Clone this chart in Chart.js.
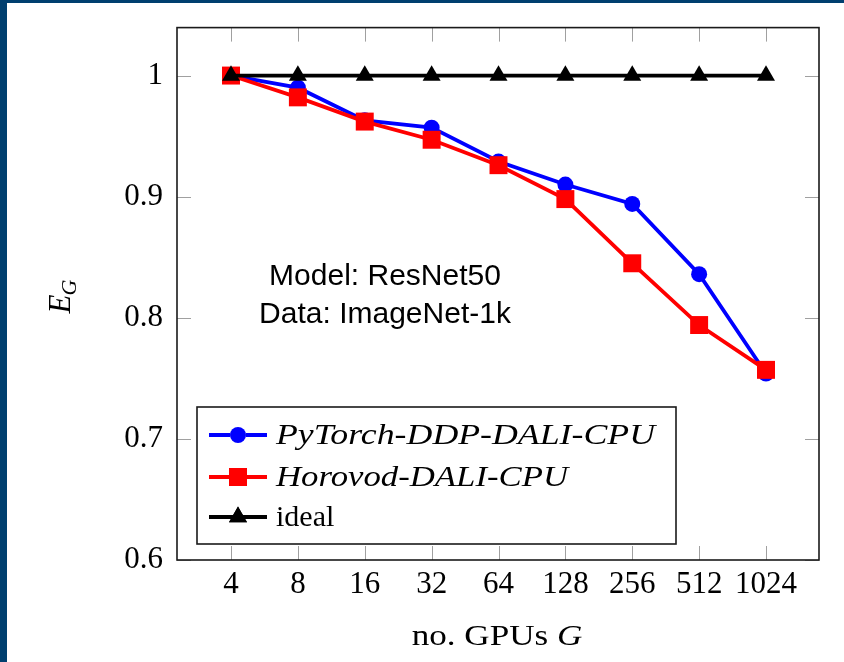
<!DOCTYPE html>
<html>
<head>
<meta charset="utf-8">
<script src="https://cdn.jsdelivr.net/npm/chart.js@4/dist/chart.umd.min.js"></script>
<style>
  html, body { margin: 0; padding: 0; background: #003f6f; }
  #wrap { position: absolute; left: 7px; top: 3px; width: 837px; height: 659px; background: #fff; }
  canvas { display: block; }
</style>
</head>
<body>
<div id="wrap"><canvas id="chart" width="837" height="659"></canvas></div>
<script>
const gpus = [4, 8, 16, 32, 64, 128, 256, 512, 1024];
const pytorchDDP = [1.0, 0.990, 0.963, 0.957, 0.929, 0.910, 0.894, 0.836, 0.754];
const horovod = [1.0, 0.982, 0.962, 0.947, 0.926, 0.898, 0.845, 0.794, 0.757];
const ideal = [1, 1, 1, 1, 1, 1, 1, 1, 1];
const yTicks = [0.6, 0.7, 0.8, 0.9, 1];
const seriesNames = ["PyTorch-DDP-DALI-CPU", "Horovod-DALI-CPU", "ideal"];
const noteLines = ["Model: ResNet50", "Data: ImageNet-1k"];

const serif = "'Liberation Serif', 'DejaVu Serif', serif";
const toPoints = (vals) => vals.map((v, i) => ({ x: Math.log2(gpus[i]), y: v }));

// text stretched sideways to a target width (the reference uses a wider font)
function wideText(ctx, text, x, y, target) {
  const m = ctx.measureText(text).width;
  const k = target ? target / m : 1;
  ctx.save();
  ctx.translate(x, y);
  ctx.scale(k, 1);
  ctx.fillText(text, 0, 0);
  ctx.restore();
  return m * k;
}

// frame, inner tick marks, legend box and free text
const decor = {
  id: "decor",
  afterDatasetsDraw(chart) {
    const { ctx, chartArea: a, scales } = chart;
    ctx.save();
    // tick marks inside the box
    ctx.strokeStyle = "#a0a0a0";
    ctx.lineWidth = 1;
    ctx.beginPath();
    gpus.forEach((g) => {
      const px = Math.round(scales.x.getPixelForValue(Math.log2(g))) + 0.5;
      ctx.moveTo(px, a.bottom); ctx.lineTo(px, a.bottom - 14);
      ctx.moveTo(px, a.top); ctx.lineTo(px, a.top + 14);
    });
    yTicks.forEach((t) => {
      const py = Math.round(scales.y.getPixelForValue(t)) + 0.5;
      ctx.moveTo(a.left, py); ctx.lineTo(a.left + 14, py);
      ctx.moveTo(a.right, py); ctx.lineTo(a.right - 14, py);
    });
    ctx.stroke();
    // frame
    ctx.strokeStyle = "#1a1a1a";
    ctx.lineWidth = 1.6;
    ctx.strokeRect(a.left, a.top, a.right - a.left, a.bottom - a.top);

    // note
    ctx.fillStyle = "#000";
    ctx.font = "30px 'Liberation Sans', Arial, sans-serif";
    ctx.textAlign = "center";
    ctx.textBaseline = "middle";
    ctx.fillText(noteLines[0], 378, 274);
    ctx.fillText(noteLines[1], 378, 312);

    // legend
    const lx = 190, ly = 404, lw = 479, lh = 137;
    ctx.fillStyle = "#fff";
    ctx.fillRect(lx, ly, lw, lh);
    ctx.strokeStyle = "#1a1a1a";
    ctx.lineWidth = 1.6;
    ctx.strokeRect(lx, ly, lw, lh);
    const rows = [432, 474, 514];
    const widths = [379, 292, null];
    chart.data.datasets.forEach((ds, i) => {
      const y = rows[i];
      ctx.strokeStyle = ds.borderColor;
      ctx.lineWidth = ds.borderWidth;
      ctx.beginPath();
      ctx.moveTo(202, y); ctx.lineTo(260, y);
      ctx.stroke();
      Chart.helpers.drawPoint(ctx, {
        pointStyle: ds.pointStyle, radius: ds.pointRadius, borderWidth: 0, rotation: 0
      }, 231, y);
      ctx.fillStyle = ds.pointBackgroundColor;
      ctx.fill();
      ctx.fillStyle = "#000";
      ctx.textAlign = "left";
      ctx.textBaseline = "middle";
      ctx.font = (widths[i] ? "italic " : "") + "30px " + serif;
      wideText(ctx, seriesNames[i], 269, y + 1, widths[i]);
    });

    // x title: "no. GPUs G"
    ctx.textBaseline = "alphabetic";
    ctx.textAlign = "left";
    const k = 1.17;
    ctx.font = "30px " + serif;
    const t1 = "no. GPUs ";
    const w1 = ctx.measureText(t1).width * k;
    ctx.font = "italic 30px " + serif;
    const w2 = ctx.measureText("G").width * k;
    const sx = 490 - (w1 + w2) / 2;
    ctx.font = "30px " + serif;
    wideText(ctx, t1, sx, 642, w1);
    ctx.font = "italic 30px " + serif;
    wideText(ctx, "G", sx + w1, 642, w2);

    // y title: E_G
    ctx.translate(55, 293);
    ctx.rotate(-Math.PI / 2);
    ctx.font = "italic 31px " + serif;
    const we = ctx.measureText("E").width;
    ctx.font = "italic 22px " + serif;
    const wg = ctx.measureText("G").width;
    const ox = -(we + wg) / 2;
    ctx.font = "italic 31px " + serif;
    ctx.fillText("E", ox, 8);
    ctx.font = "italic 22px " + serif;
    ctx.fillText("G", ox + we - 1, 14);
    ctx.restore();
  }
};

const ctx = document.getElementById("chart").getContext("2d");
new Chart(ctx, {
  type: "line",
  data: {
    datasets: [
      {
        label: seriesNames[0],
        data: toPoints(pytorchDDP),
        borderColor: "#0000ff",
        backgroundColor: "#0000ff",
        pointBackgroundColor: "#0000ff",
        pointBorderWidth: 0,
        borderWidth: 3.8,
        pointStyle: "circle",
        pointRadius: 8,
        order: 3
      },
      {
        label: seriesNames[1],
        data: toPoints(horovod),
        borderColor: "#ff0000",
        backgroundColor: "#ff0000",
        pointBackgroundColor: "#ff0000",
        pointBorderWidth: 0,
        borderWidth: 3.8,
        pointStyle: "rect",
        pointRadius: 12.7,
        order: 2
      },
      {
        label: seriesNames[2],
        data: toPoints(ideal),
        borderColor: "#000000",
        backgroundColor: "#000000",
        pointBackgroundColor: "#000000",
        pointBorderWidth: 0,
        borderWidth: 3.8,
        pointStyle: "triangle",
        pointRadius: 10.4,
        order: 1
      }
    ]
  },
  options: {
    responsive: false,
    animation: false,
    clip: false,
    layout: { padding: { top: 18, right: 25, left: 0, bottom: 0 } },
    plugins: {
      legend: { display: false },
      tooltip: { enabled: false }
    },
    scales: {
      x: {
        type: "linear",
        min: 1.1925,
        max: 10.7925,
        grid: { display: false },
        border: { display: false },
        afterBuildTicks: (s) => { s.ticks = gpus.map((g) => ({ value: Math.log2(g) })); },
        afterFit: (s) => { s.height = 102; },
        ticks: {
          color: "#000",
          padding: -2,
          maxRotation: 0,
          autoSkip: false,
          font: { family: serif, size: 31 },
          callback: (v) => String(Math.round(Math.pow(2, v)))
        }
      },
      y: {
        min: 0.6,
        max: 1.0396,
        grid: { display: false },
        border: { display: false },
        afterBuildTicks: (s) => { s.ticks = yTicks.map((t) => ({ value: t })); },
        afterFit: (s) => { s.width = 170; },
        ticks: {
          color: "#000",
          padding: 6,
          font: { family: serif, size: 31 },
          callback: (v) => (v === 1 ? "1" : v.toFixed(1))
        }
      }
    }
  },
  plugins: [decor]
});
</script>
</body>
</html>
